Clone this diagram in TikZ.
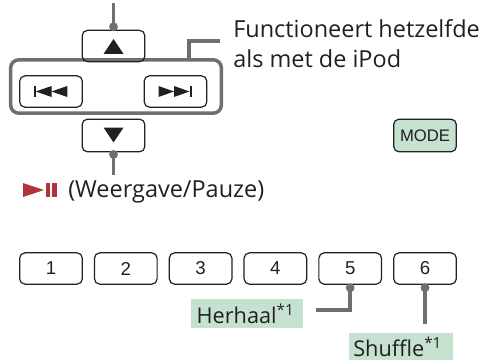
\documentclass[tikz,border=0pt]{standalone}
\usepackage{fontspec}
\setmainfont{Open Sans}
\newfontfamily\keyfont{Liberation Sans}
\usetikzlibrary{calc}
\definecolor{leadgray}{RGB}{110,111,114}
\definecolor{labelgreen}{RGB}{197,226,209}
\definecolor{playred}{RGB}{178,52,58}
\definecolor{inkgray}{RGB}{35,31,32}
\tikzset{
	keybtn/.style={draw=inkgray, line width=0.9pt, rounded corners=4pt, minimum width=47pt, minimum height=23.5pt, inner sep=0pt, font=\keyfont\fontsize{14}{14}\selectfont, text=inkgray},
	leader/.style={draw=leadgray, line width=2.6pt},
	greenlabel/.style={fill=labelgreen, inner ysep=0pt, align=left, font=\fontsize{16.3}{18}\selectfont, text=inkgray},
	bodytext/.style={font=\fontsize{17.6}{22.5}\selectfont, text=inkgray, inner sep=0pt}
}
\def\leaddot(#1){\fill[leadgray] (#1) circle (3.3pt);}

\begin{document}
\begin{tikzpicture}[x=0.75pt, y=-0.75pt]
		%%%%% START %%%%%
		\useasboundingbox (0,0) rectangle (484,360);
		
		% four-way pad
		\node[draw=leadgray, line width=2.6pt, rounded corners=6pt, minimum width=158pt, minimum height=40pt] (ctrlframe) at (116, 86.5) {};
		\node[keybtn] (up) at (113.5, 46) {};
		\node[keybtn, minimum height=24.5pt] (down) at (113.5, 135.5) {};
		\node[keybtn] (prev) at (51, 91.5) {};
		\node[keybtn] (next) at (175.5, 91.5) {};
		
		\fill[inkgray] ($(up)+(-10,8)$) -- ($(up)+(10,8)$) -- ($(up)+(0,-7)$) -- cycle;
		\fill[inkgray] ($(down)+(-10,-8)$) -- ($(down)+(10,-8)$) -- ($(down)+(0,7)$) -- cycle;
		
		\fill[inkgray] ($(prev)+(-17.5,-5.5)$) rectangle ($(prev)+(-15.5,5.5)$);
		\fill[inkgray] ($(prev)+(-15.3,0)$) -- ($(prev)+(0.5,-5.5)$) -- ($(prev)+(0.5,5.5)$) -- cycle;
		\fill[inkgray] ($(prev)+(0.5,0)$) -- ($(prev)+(16.3,-5.5)$) -- ($(prev)+(16.3,5.5)$) -- cycle;
		
		\fill[inkgray] ($(next)+(-17,-5.5)$) -- ($(next)+(-1.5,0)$) -- ($(next)+(-17,5.5)$) -- cycle;
		\fill[inkgray] ($(next)+(-1.5,-5.5)$) -- ($(next)+(14,0)$) -- ($(next)+(-1.5,5.5)$) -- cycle;
		\fill[inkgray] ($(next)+(14,-5.5)$) rectangle ($(next)+(16,5.5)$);
		
		% leaders of the pad
		\coordinate (upend) at (113.5, 3);
		\coordinate (updot) at ($(up.north)+(0,-3)$);
		\coordinate (downend) at (113.5, 175);
		\coordinate (downdot) at ($(down.south)+(0,2)$);
		\draw[leader] (upend) -- (updot);
		\leaddot(updot)
		\draw[leader] (downend) -- (downdot);
		\leaddot(downdot)
		
		\node[bodytext, anchor=north west, align=left] (ipodtxt) at (233, 19) {Functioneert hetzelfde\\als met de iPod};
		\coordinate (ipodend) at (220, 41);
		\draw[leader] (189,0 |- ctrlframe.north) |- (ipodend);
		
		\node[keybtn, fill=labelgreen, minimum height=24.5pt, font=\keyfont\fontsize{12.5}{12.5}\selectfont] (mode) at (425, 135.5) {MODE};
		
		% play/pause
		\fill[playred] (23, 183) -- (44, 190) -- (23, 197) -- cycle;
		\fill[playred] (46, 183) rectangle (50, 197);
		\fill[playred] (52.3, 183) rectangle (56.7, 197);
		\node[bodytext, anchor=base west] (playtxt) at (68, 197) {(Weergave/Pauze)};
		
		% number keys
		\foreach \k in {1,...,6}
			\node[keybtn] (num\k) at ({51+74.8*(\k-1)}, 268.5) {\k};
		
		\node[greenlabel, anchor=north west, inner xsep=4pt, text width=76pt, minimum height=21.5pt] (repeat) at (191, 299) {Herhaal\textsuperscript{*1}};
		\node[greenlabel, anchor=north west, inner xsep=3pt, text width=72pt, minimum height=20pt] (shuffle) at (349, 333) {Shuffle\textsuperscript{*1}};
		
		\coordinate (repeatdot) at ($(num5.south)+(0,3)$);
		\coordinate (repeatend) at (316, 310);
		\draw[leader] (repeatdot) |- (repeatend);
		\leaddot(repeatdot)
		\coordinate (shuffledot) at ($(num6.south)+(0,3)$);
		\coordinate (shuffleend) at (425, 324);
		\draw[leader] (shuffledot) -- (shuffleend);
		\leaddot(shuffledot)
		
		%%%%% END %%%%%
	\end{tikzpicture}
\end{document}
